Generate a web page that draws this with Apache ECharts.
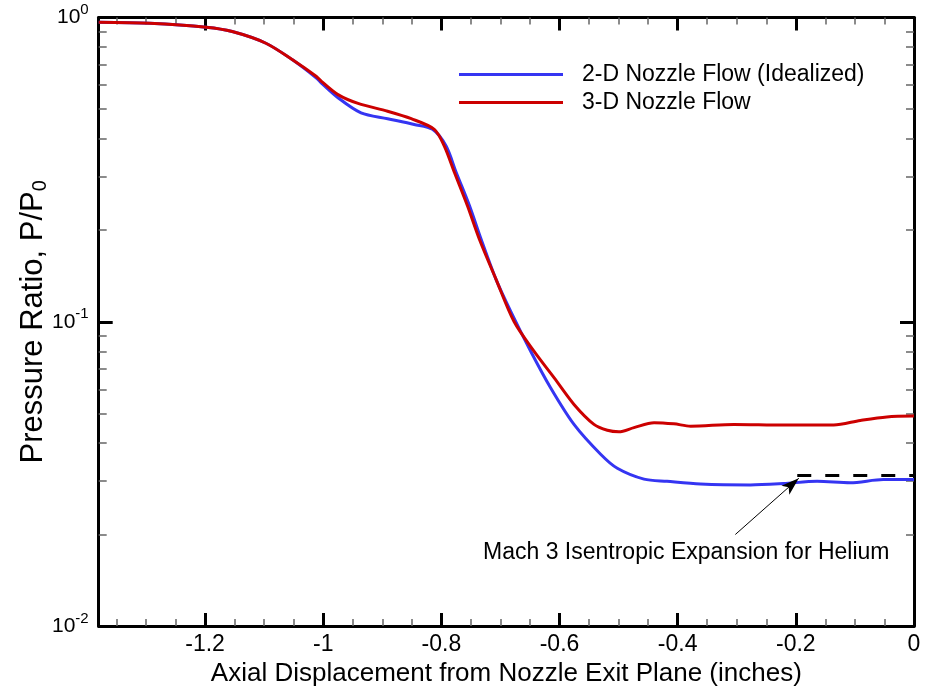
<!DOCTYPE html>
<html><head><meta charset="utf-8">
<script src="https://cdn.jsdelivr.net/npm/echarts@6/dist/echarts.min.js"></script>
<style>html,body{margin:0;padding:0;background:#fff}#c{width:930px;height:692px}</style>
</head><body><div id="c"></div>
<script>
// Axial displacement (inches) and pressure ratio P/P0
const x2D = [-1.38,-1.294,-1.198,-1.154,-1.097,-1.052,-1.012,-1.003,-0.975,-0.936,-0.891,-0.846,-0.815,-0.792,-0.775,-0.7525,-0.733,-0.708,-0.6824,-0.6486,-0.6149,-0.5755,-0.5304,-0.5022,-0.457,-0.418,-0.3615,-0.277,-0.221,-0.164,-0.108,-0.052,0];
const p2D = [0.964,0.957,0.929,0.899,0.823,0.726,0.634,0.609,0.545,0.486,0.465,0.445,0.429,0.378,0.310,0.241,0.1875,0.1387,0.108,0.0799,0.0606,0.0460,0.0367,0.0330,0.0304,0.0299,0.0293,0.0291,0.0294,0.0299,0.0296,0.0303,0.0303];
const x3D = [-1.38,-1.294,-1.198,-1.154,-1.097,-1.052,-1.012,-1.003,-0.975,-0.941,-0.891,-0.851,-0.812,-0.795,-0.778,-0.756,-0.736,-0.708,-0.677,-0.643,-0.609,-0.5755,-0.5417,-0.519,-0.4995,-0.474,-0.440,-0.4066,-0.378,-0.305,-0.221,-0.136,-0.091,-0.046,0];
const p3D = [0.964,0.957,0.929,0.899,0.823,0.726,0.641,0.617,0.558,0.522,0.492,0.465,0.429,0.378,0.310,0.241,0.1875,0.1387,0.1002,0.0799,0.0654,0.0535,0.0460,0.0440,0.0435,0.0449,0.0466,0.0462,0.0454,0.0460,0.0458,0.0458,0.0474,0.0487,0.0490];
const seriesNames = ['2-D Nozzle Flow (Idealized)','3-D Nozzle Flow'];
const xMajorTicks = [-1.2,-1,-0.8,-0.6,-0.4,-0.2,0];
const xMinorTicks = [-1.35,-1.3,-1.25,-1.15,-1.1,-1.05,-0.95,-0.9,-0.85,-0.75,-0.7,-0.65,-0.55,-0.5,-0.45,-0.35,-0.3,-0.25,-0.15,-0.1,-0.05];
const yMajorTicks = [0.01,0.1,1];
const yMinorTicks = [0.02,0.03,0.04,0.05,0.06,0.07,0.08,0.09,0.2,0.3,0.4,0.5,0.6,0.7,0.8,0.9];
const isentropicX = [-0.1976, 0];
const isentropicP = 0.03125;
const arrowFrom = [-0.3024, 0.0200];
const arrowTo = [-0.195, 0.0306];
const annotationText = 'Mach 3 Isentropic Expansion for Helium';

const FONT = 'Liberation Sans, Arial, sans-serif';
const XMIN = -1.38, XMAX = 0;

function xAxis(pos, ticks, len, width, color, label, line) {
  return {
    type: 'value', min: XMIN, max: XMAX, position: pos,
    axisLine: { show: line, onZero: false, lineStyle: { color: '#000', width: 3 } },
    axisTick: { show: true, inside: true, length: len, customValues: ticks, lineStyle: { color: color, width: width } },
    axisLabel: { show: label, customValues: ticks, margin: 7, color: '#000', fontSize: 23, fontFamily: FONT },
    splitLine: { show: false }
  };
}
function yAxis(pos, ticks, len, width, color, label, line) {
  return {
    type: 'log', logBase: 10, min: 0.01, max: 1, position: pos,
    axisLine: { show: line, onZero: false, lineStyle: { color: '#000', width: 3 } },
    axisTick: { show: true, inside: true, length: len, customValues: ticks, lineStyle: { color: color, width: width } },
    axisLabel: {
      show: label, customValues: ticks, margin: 10, color: '#000', fontFamily: FONT,
      formatter: function (v) { return '{b|10}{s|' + Math.round(Math.log10(v)) + '}'; },
      rich: {
        b: { fontSize: 21, lineHeight: 30, fontFamily: FONT, color: '#000' },
        s: { fontSize: 15, lineHeight: 15, verticalAlign: 'top', fontFamily: FONT, color: '#000' }
      }
    },
    splitLine: { show: false }, minorSplitLine: { show: false }
  };
}

const xAxes = [
  xAxis('bottom', xMajorTicks, 13, 3, '#000', true, true),
  xAxis('bottom', xMinorTicks, 7, 1.5, '#666', false, false),
  xAxis('top', xMajorTicks, 13, 3, '#000', false, true),
  xAxis('top', xMinorTicks, 7, 1.5, '#666', false, false)
];
xAxes[0].name = 'Axial Displacement from Nozzle Exit Plane (inches)';
xAxes[0].nameLocation = 'middle';
xAxes[0].nameGap = 34;
xAxes[0].nameTextStyle = { fontSize: 26, fontFamily: FONT, color: '#000' };

const yAxes = [
  yAxis('left', yMajorTicks, 14, 3, '#000', true, true),
  yAxis('left', yMinorTicks, 8, 1.5, '#666', false, false),
  yAxis('right', yMajorTicks, 14, 3, '#000', false, true),
  yAxis('right', yMinorTicks, 8, 1.5, '#666', false, false)
];
yAxes[0].name = 'Pressure Ratio, P/P{sub|0}';
yAxes[0].nameLocation = 'middle';
yAxes[0].nameGap = 48;
yAxes[0].nameMoveOverlap = false;
yAxes[0].nameTextStyle = { fontSize: 31, fontFamily: FONT, color: '#000', lineHeight: 34,
  rich: { sub: { fontSize: 20, fontFamily: FONT, color: '#000', verticalAlign: 'bottom', lineHeight: 20 } } };

function pairs(xs, ys) { return xs.map((x, i) => [x, ys[i]]); }

const legendBase = { left: 459, orient: 'vertical', padding: 0, icon: 'rect', itemWidth: 104, itemHeight: 3,
  textStyle: { fontSize: 23, fontFamily: FONT, color: '#000', padding: [0, 0, 0, 14] }, selectedMode: false };

const chart = echarts.init(document.getElementById('c'), null, { renderer: 'canvas' });
chart.setOption({
  animation: false,
  backgroundColor: '#fff',
  grid: { left: 98.7, right: 16, top: 17.5, bottom: 62, containLabel: false },
  xAxis: xAxes,
  yAxis: yAxes,
  legend: [
    Object.assign({ data: [seriesNames[0]], top: 63 }, legendBase),
    Object.assign({ data: [seriesNames[1]], top: 91 }, legendBase)
  ],
  series: [
    { name: seriesNames[0], type: 'line', xAxisIndex: 0, yAxisIndex: 0, smooth: 0.3, symbol: 'none',
      data: pairs(x2D, p2D), lineStyle: { color: '#3535f2', width: 3 }, itemStyle: { color: '#3535f2' }, z: 3,
      markLine: { silent: true, symbol: ['none', 'none'], animation: false, label: { show: false },
        lineStyle: { color: '#000', width: 3, type: [14, 14] },
        data: [[{ coord: [isentropicX[0], isentropicP] }, { coord: [isentropicX[1], isentropicP] }]] } },
    { name: seriesNames[1], type: 'line', xAxisIndex: 0, yAxisIndex: 0, smooth: 0.3, symbol: 'none',
      data: pairs(x3D, p3D), lineStyle: { color: '#cc0000', width: 3 }, itemStyle: { color: '#cc0000' }, z: 4,
      markLine: { silent: true, symbol: ['none', 'arrow'], symbolSize: [9, 18], animation: false, label: { show: false },
        lineStyle: { color: '#000', width: 1, type: 'solid' },
        data: [[{ coord: arrowFrom }, { coord: arrowTo }]] } }
  ],
  graphic: [
    { type: 'text', left: 483, top: 541, style: { text: annotationText, fontSize: 23, fontFamily: FONT, fill: '#000' } }
  ]
});
</script></body></html>
